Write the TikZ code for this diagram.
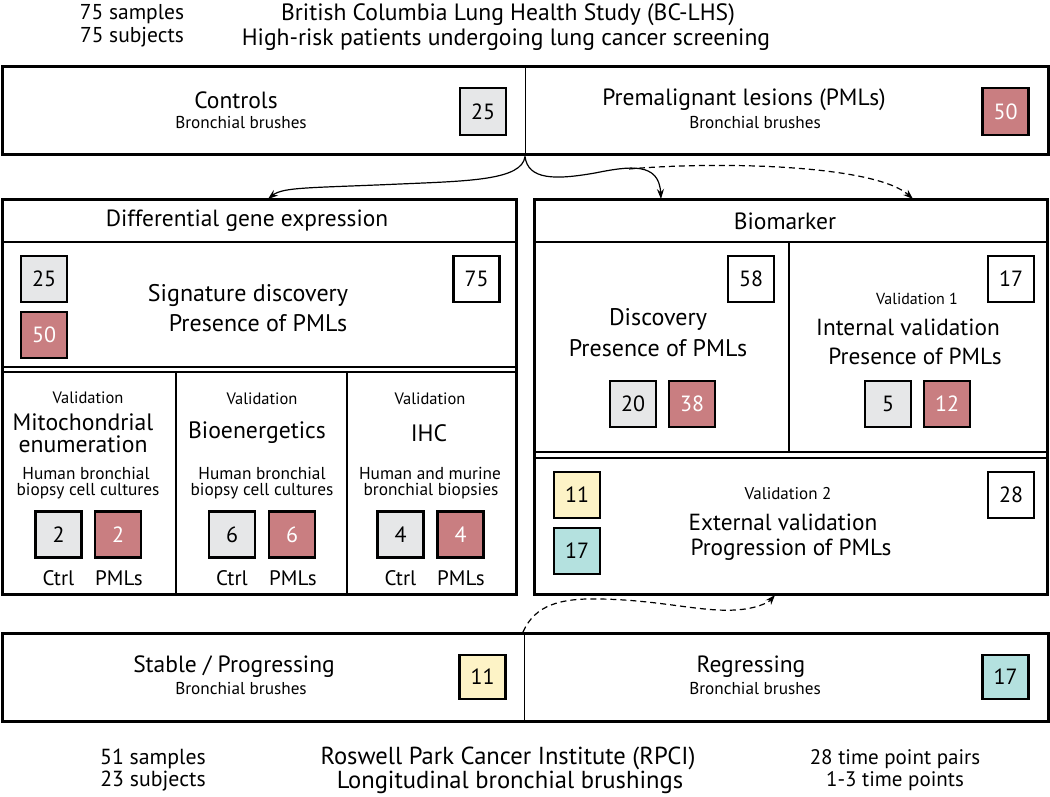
\documentclass[tikz,border=0pt]{standalone}
\usepackage{fontspec}
\setmainfont{PT Sans}
\usetikzlibrary{arrows.meta}
\definecolor{cgray}{HTML}{E6E7E8}
\definecolor{cred}{HTML}{C97E81}
\definecolor{cyel}{HTML}{FDF3C6}
\definecolor{cteal}{HTML}{B4E1DF}
\newcommand{\fsz}[1]{\fontsize{#1}{#1}\selectfont}
\tikzset{
  panel/.style={draw, line width=3pt, inner sep=0pt},
  inner/.style={line width=1.6pt},
  thin/.style={line width=1pt},
  numbox/.style={draw, line width=2.2pt, minimum width=46pt, minimum height=46pt, inner sep=0pt, font=\fsz{22}},
  graybox/.style={numbox, fill=cgray},
  redbox/.style={numbox, fill=cred, text=white},
  yelbox/.style={numbox, fill=cyel},
  tealbox/.style={numbox, fill=cteal},
  whitebox/.style={numbox, fill=white},
  txt/.style={inner sep=0pt, font=\fsz{#1}},
  arr/.style={line width=1.2pt, -{Stealth[length=10pt,width=7pt]}},
  darr/.style={arr, dash pattern=on 6pt off 4pt},
}
\begin{document}
\begin{tikzpicture}[x=1pt,y=-1pt]
\useasboundingbox (0,0) rectangle (1050,797);
% header
\node[txt=21.5] (hs1) at (132,14) {75 samples};
\node[txt=21.5] (hs2) at (132,37) {75 subjects};
\node[txt=23.6] (h1) at (508,15) {British Columbia Lung Health Study (BC-LHS)};
\node[txt=23.6] (h2) at (506,40) {High-risk patients undergoing lung cancer screening};
% top box
\node[panel, minimum width=1046pt, minimum height=88pt] (top) at (525,111) {};
\draw[thin] (top.north) -- (top.south);
\node[txt=23.5] (ctl) at (236,100) {Controls};
\node[txt=17.2] (ctlb) at (241,123) {Bronchial brushes};
\node[graybox, minimum height=47pt] (n25a) at (483,111.5) {25};
\node[txt=23.5] (pml) at (744,100) {Premalignant lesions (PMLs)};
\node[txt=17.2] (pmlb) at (755,123) {Bronchial brushes};
\node[redbox, minimum height=47pt] (n50a) at (1005.5,111.5) {50};
% left panel
\node[panel, minimum width=514pt, minimum height=395pt] (dge) at (259,396.5) {};
\draw[inner] (2,242) -- (516,242);
\draw[inner] (2,367) -- (516,367);
\draw[inner] (2,372) -- (516,372);
\draw[inner] (176,372) -- (176,594);
\draw[inner] (347,372) -- (347,594);
\node[txt=23.4] (dget) at (247,221) {Differential gene expression};
\node[graybox] (n25b) at (44,279) {25};
\node[redbox] (n50b) at (44,335) {50};
\node[whitebox] (n75) at (476.5,279) {75};
\node[txt=24] (sd1) at (248,295) {Signature discovery};
\node[txt=24] (sd2) at (258,323) {Presence of PMLs};
% column 1
\node[txt=16.5] (v1) at (88,398) {Validation};
\node[txt=23.7] (mt1) at (83,422) {Mitochondrial};
\node[txt=23.7] (mt2) at (83,444) {enumeration};
\node[txt=17.3] (hb1) at (86,473) {Human bronchial};
\node[txt=17.3] (hb2) at (88,491) {biopsy cell cultures};
\node[graybox] (c1a) at (58.5,534.5) {2};
\node[redbox] (c1b) at (118,534.5) {2};
\node[txt=21] (c1c) at (58.5,578) {Ctrl};
\node[txt=21] (c1p) at (119,578) {PMLs};
% column 2
\node[txt=16.5] (v2) at (262,399) {Validation};
\node[txt=23.7] (be) at (257,433) {Bioenergetics};
\node[txt=17.3] (hb3) at (262,473) {Human bronchial};
\node[txt=17.3] (hb4) at (262,491) {biopsy cell cultures};
\node[graybox] (c2a) at (232,534.5) {6};
\node[redbox] (c2b) at (292,534.5) {6};
\node[txt=21] (c2c) at (232,578) {Ctrl};
\node[txt=21] (c2p) at (293,578) {PMLs};
% column 3
\node[txt=16.5] (v3) at (430,399) {Validation};
\node[txt=23.7] (ihc) at (429,433) {IHC};
\node[txt=17.3] (hm1) at (430,473) {Human and murine};
\node[txt=17.3] (hm2) at (431,491) {bronchial biopsies};
\node[graybox] (c3a) at (400.5,534.5) {4};
\node[redbox] (c3b) at (460.5,534.5) {4};
\node[txt=21] (c3c) at (400.5,578) {Ctrl};
\node[txt=21] (c3p) at (461,578) {PMLs};
% right panel
\node[panel, minimum width=513pt, minimum height=395pt] (bio) at (790.5,396.5) {};
\draw[inner] (534,242) -- (1047,242);
\draw[inner] (789,242) -- (789,452);
\draw[inner] (534,452) -- (1047,452);
\draw[inner] (534,458) -- (1047,458);
\node[txt=23.5] (biot) at (785,221) {Biomarker};
\node[whitebox] (n58) at (751,279) {58};
\node[txt=24] (di1) at (658,319) {Discovery};
\node[txt=24] (di2) at (658,348) {Presence of PMLs};
\node[graybox] (n20) at (633,404) {20};
\node[redbox] (n38) at (692,404) {38};
\node[whitebox] (n17a) at (1011,279) {17};
\node[txt=16] (va1) at (917,299) {Validation 1};
\node[txt=23.3] (iv1) at (908,327) {Internal validation};
\node[txt=23.3] (iv2) at (915,356) {Presence of PMLs};
\node[graybox] (n5) at (888,404) {5};
\node[redbox] (n12) at (947,404) {12};
\node[yelbox] (n11a) at (577,495) {11};
\node[tealbox] (n17b) at (577,551) {17};
\node[whitebox] (n28) at (1011,495) {28};
\node[txt=17] (va2) at (788,494) {Validation 2};
\node[txt=23.3] (ev1) at (783,522) {External validation};
\node[txt=23.3] (ev2) at (791,550) {Progression of PMLs};
% bottom box
\node[panel, minimum width=1046pt, minimum height=88pt] (bot) at (525,677) {};
\draw[thin] (524,633) -- (524,721);
\node[txt=23.5] (sp) at (234,667) {Stable / Progressing};
\node[txt=17.2] (spb) at (241,689) {Bronchial brushes};
\node[yelbox, minimum height=44pt] (n11b) at (482.5,677) {11};
\node[txt=23.5] (rg) at (751,667) {Regressing};
\node[txt=17.2] (rgb) at (755,689) {Bronchial brushes};
\node[tealbox, minimum height=44pt] (n17c) at (1005.5,677) {17};
% footer
\node[txt=21.8] (fs1) at (153,759) {51 samples};
\node[txt=21.8] (fs2) at (153,781) {23 subjects};
\node[txt=24.6] (f1) at (508,758) {Roswell Park Cancer Institute (RPCI)};
\node[txt=24.6] (f2) at (510,782) {Longitudinal bronchial brushings};
\node[txt=21] (fr1) at (895,759) {28 time point pairs};
\node[txt=21] (fr2) at (895,781) {1-3 time points};
% connectors
\coordinate (src) at (top.south);
\coordinate (dgein) at (268,199);
\coordinate (bioin1) at (661,199);
\coordinate (bioin2) at (913,199);
\coordinate (fork) at (629,169);
\coordinate (botsrc) at (523,632);
\coordinate (bioin3) at (775,595);
\draw[arr] (src) .. controls (522,180) and (470,181) .. (400,184) .. controls (310,188) and (283,187) .. (dgein);
\draw[arr] (src) .. controls (528,180) and (555,180) .. (595,173) .. controls (630,166) and (659,162) .. (bioin1);
\draw[darr] (fork) .. controls (720,161) and (875,165) .. (bioin2);
\draw[darr] (botsrc) .. controls (535,605) and (560,598) .. (600,599) .. controls (660,600) and (700,612) .. (735,610) .. controls (755,609) and (768,603) .. (bioin3);
\end{tikzpicture}
\end{document}
